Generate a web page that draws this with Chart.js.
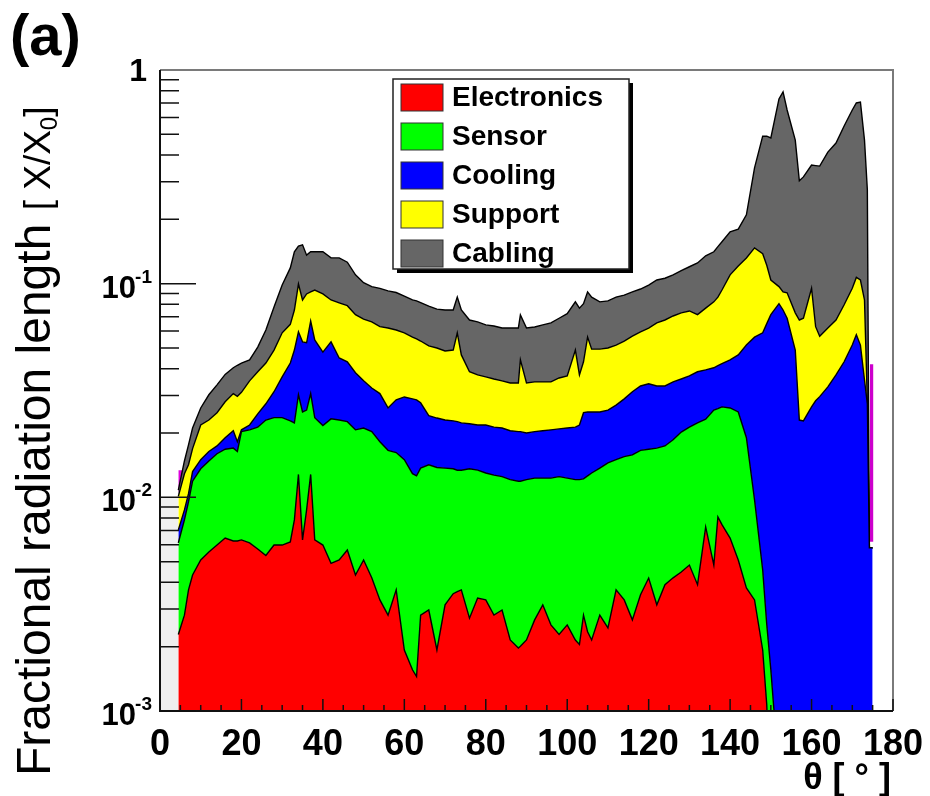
<!DOCTYPE html>
<html>
<head>
<meta charset="utf-8">
<title>Material budget</title>
<script src="https://cdn.jsdelivr.net/npm/chart.js@4.4.0/dist/chart.umd.min.js"></script>
<style>
  html, body { margin: 0; padding: 0; background: #fff; }
</style>
</head>
<body>
<canvas id="myChart" width="930" height="796"></canvas>
<script>
// polar angle in degrees
const theta = [4.5, 6, 7, 8, 10, 12, 14, 16, 18, 19,
  20, 22, 24, 26, 28, 30, 32, 33, 34, 35,
  36, 37, 38, 40, 42, 44, 46, 48, 50, 52,
  54, 56, 58, 60, 62, 63, 64, 66, 68, 70,
  72, 73, 74, 76, 78, 80, 82, 84, 86, 88,
  88.5, 90, 92, 94, 96, 98, 100, 102, 103, 104,
  105, 106, 108, 110, 112, 114, 116, 118, 120, 122,
  124, 126, 128, 130, 132, 134, 136, 137, 138, 140,
  142, 144, 146, 148, 149, 150, 152, 153, 154, 156,
  157, 158, 160, 161, 162, 164, 166, 168, 170, 171,
  172, 173, 173.7, 174.2, 175];

// top edge of each stacked layer (cumulative X/X0)
const electronics = [0.00228, 0.00281, 0.00369, 0.00433, 0.00509, 0.00555, 0.00598, 0.00645, 0.00625, 0.00625,
  0.00632, 0.00612, 0.00573, 0.00534, 0.00598, 0.00598, 0.00618, 0.00784, 0.0128, 0.00632,
  0.00873, 0.0128, 0.00632, 0.00598, 0.00491, 0.00509, 0.00567, 0.00433, 0.00509, 0.00420,
  0.00331, 0.00281, 0.00369, 0.00193, 0.00156, 0.00145, 0.00281, 0.00297, 0.00193, 0.00314,
  0.00354, 0.00362, 0.00369, 0.00272, 0.00338, 0.00331, 0.00281, 0.00297, 0.00215, 0.00197,
  0.00201, 0.00215, 0.00267, 0.00314, 0.00253, 0.00228, 0.00253, 0.00215, 0.00205, 0.00281,
  0.00235, 0.00215, 0.00281, 0.00245, 0.00369, 0.00331, 0.00267, 0.00350, 0.00419, 0.00314,
  0.00390, 0.00420, 0.00447, 0.00482, 0.00390, 0.00727, 0.00482, 0.00810, 0.00745, 0.00645,
  0.00509, 0.00377, 0.00331, 0.00193, 0.00107, 0.0003, 0.0003, 0.0003, 0.0003, 0.0003,
  0.0003, 0.0003, 0.0003, 0.0003, 0.0003, 0.0003, 0.0003, 0.0003, 0.0003, 0.0003,
  0.0003, 0.0003, 0.0003, 0.0003, 0.0003];

const sensor = [0.00612, 0.00784, 0.00952, 0.0119, 0.0136, 0.0148, 0.0160, 0.0168, 0.0170, 0.0164,
  0.0203, 0.0207, 0.0213, 0.0230, 0.0236, 0.0236, 0.0228, 0.0223, 0.0302, 0.0251,
  0.0256, 0.0306, 0.0236, 0.0217, 0.0233, 0.0230, 0.0226, 0.0207, 0.0211, 0.0203,
  0.0182, 0.0166, 0.0162, 0.0150, 0.0129, 0.0126, 0.0137, 0.0142, 0.0138, 0.0137,
  0.0136, 0.0134, 0.0134, 0.0136, 0.0134, 0.0130, 0.0127, 0.0125, 0.0121, 0.0119,
  0.0119, 0.0121, 0.0123, 0.0123, 0.0123, 0.0125, 0.0123, 0.0121, 0.0121, 0.0122,
  0.0126, 0.0130, 0.0137, 0.0145, 0.0150, 0.0155, 0.0158, 0.0166, 0.0168, 0.0170,
  0.0174, 0.0186, 0.0202, 0.0213, 0.0223, 0.0232, 0.0256, 0.0260, 0.0265, 0.0262,
  0.0251, 0.0190, 0.00972, 0.00457, 0.00254, 0.00156, 0.0005, 0.0003, 0.0003, 0.0003,
  0.0003, 0.0003, 0.0003, 0.0003, 0.0003, 0.0003, 0.0003, 0.0003, 0.0003, 0.0003,
  0.0003, 0.0003, 0.0003, 0.0003, 0.0003];

const cooling = [0.00704, 0.00873, 0.0104, 0.0132, 0.0150, 0.0164, 0.0174, 0.0190, 0.0205, 0.0182,
  0.0207, 0.0218, 0.0246, 0.0274, 0.0312, 0.0366, 0.0425, 0.0489, 0.0595, 0.0534,
  0.0529, 0.0668, 0.0545, 0.0478, 0.0534, 0.0449, 0.0431, 0.0383, 0.0351, 0.0325,
  0.0306, 0.0262, 0.0286, 0.0295, 0.0289, 0.0286, 0.0277, 0.0241, 0.0235, 0.0230,
  0.0228, 0.0226, 0.0223, 0.0221, 0.0218, 0.0218, 0.0213, 0.0211, 0.0205, 0.0203,
  0.0203, 0.0200, 0.0203, 0.0205, 0.0207, 0.0209, 0.0211, 0.0213, 0.0218, 0.0249,
  0.0251, 0.0251, 0.0251, 0.0256, 0.0270, 0.0289, 0.0312, 0.0332, 0.0340, 0.0332,
  0.0332, 0.0347, 0.0358, 0.0370, 0.0387, 0.0395, 0.0404, 0.0413, 0.0422, 0.0440,
  0.0464, 0.0516, 0.0562, 0.0589, 0.0650, 0.0716, 0.0806, 0.0753, 0.0689, 0.0489,
  0.0230, 0.0228, 0.0265, 0.0283, 0.0296, 0.0329, 0.0374, 0.0431, 0.0516, 0.0577,
  0.0516, 0.0354, 0.0274, 0.0058, 0.0058];

const support = [0.0101, 0.0129, 0.0142, 0.0169, 0.0218, 0.0230, 0.0249, 0.0280, 0.0306, 0.0297,
  0.0310, 0.0351, 0.0387, 0.0425, 0.0489, 0.0589, 0.0645, 0.0753, 0.0996, 0.0839,
  0.0895, 0.0915, 0.0934, 0.0895, 0.0839, 0.0813, 0.0789, 0.0716, 0.0683, 0.0662,
  0.0629, 0.0620, 0.0607, 0.0589, 0.0562, 0.0551, 0.0539, 0.0511, 0.0500, 0.0484,
  0.0489, 0.0589, 0.0464, 0.0387, 0.0374, 0.0366, 0.0358, 0.0351, 0.0343, 0.0343,
  0.0440, 0.0343, 0.0347, 0.0347, 0.0347, 0.0362, 0.0370, 0.0489, 0.0374, 0.0431,
  0.0562, 0.0494, 0.0494, 0.0500, 0.0516, 0.0539, 0.0568, 0.0595, 0.0620, 0.0655,
  0.0676, 0.0706, 0.0730, 0.0745, 0.0716, 0.0768, 0.0822, 0.0865, 0.0934, 0.110,
  0.121, 0.132, 0.147, 0.138, 0.122, 0.104, 0.0969, 0.0915, 0.0906, 0.0730,
  0.0676, 0.0689, 0.0951, 0.0629, 0.0568, 0.0620, 0.0676, 0.0797, 0.0951, 0.107,
  0.104, 0.0839, 0.0281, 0.0058, 0.0058];

const cabling = [0.0108, 0.0148, 0.0176, 0.0211, 0.0262, 0.0302, 0.0336, 0.0376, 0.0404, 0.0415,
  0.0425, 0.0440, 0.0505, 0.0607, 0.0778, 0.0985, 0.1185, 0.141, 0.150, 0.152,
  0.136, 0.141, 0.141, 0.141, 0.132, 0.132, 0.126, 0.110, 0.101, 0.0968,
  0.0951, 0.0925, 0.0909, 0.0875, 0.0839, 0.0831, 0.0816, 0.0785, 0.0760, 0.0753,
  0.0753, 0.0865, 0.0753, 0.0676, 0.0662, 0.0641, 0.0634, 0.0620, 0.0620, 0.0620,
  0.0714, 0.0620, 0.0627, 0.0641, 0.0655, 0.0689, 0.0724, 0.0822, 0.0768, 0.0806,
  0.0915, 0.0865, 0.0822, 0.0831, 0.0865, 0.0884, 0.0915, 0.0944, 0.0985, 0.104,
  0.106, 0.110, 0.115, 0.120, 0.125, 0.135, 0.141, 0.149, 0.157, 0.175,
  0.180, 0.210, 0.348, 0.490, 0.490, 0.481, 0.732, 0.790, 0.650, 0.470,
  0.303, 0.316, 0.359, 0.357, 0.355, 0.413, 0.455, 0.547, 0.650, 0.701,
  0.708, 0.470, 0.275, 0.0058, 0.0058];

// unlabelled slivers at both ends of the acceptance (magenta)
const otherLeftTheta = [4.5, 5.8];
const otherLeftTop = [0.0134, 0.0134];
const otherLeftBase = 0.0106;
const otherRightTheta = [174.3, 175.2];
const otherRightTop = [0.042, 0.042];
const otherRightBase = 0.0062;

// beam pipe region (light grey block at small angles)
const pipeTheta = [0, 4.5];
const pipeLevel = [0.01, 0.01];

const layerNames = ["Electronics", "Sensor", "Cooling", "Support", "Cabling"];
const xTicks = [0, 20, 40, 60, 80, 100, 120, 140, 160, 180];
const yTicks = [0.001, 0.01, 0.1, 1];
const yTickBase = ["10", "10", "10", "1"];
const yTickExp = ["-3", "-2", "-1", ""];
const xMinorStep = 5;
const xMajorStep = 20;

const layerColors = ["#ff0000", "#00ff00", "#0000ff", "#ffff00", "#666666"];
const FONT = "'Liberation Sans', Arial, Helvetica, sans-serif";

function layer(name, values, color, fill) {
  return {
    label: name,
    data: theta.map((t, i) => ({ x: t, y: values[i] })),
    backgroundColor: color,
    borderColor: "#000",
    borderWidth: 1.4,
    pointRadius: 0,
    tension: 0,
    fill: fill,
  };
}

function block(name, xs, ys, color, fill) {
  return {
    label: name,
    data: xs.map((t, i) => ({ x: t, y: ys[i] })),
    backgroundColor: color,
    borderWidth: 0,
    pointRadius: 0,
    fill: fill,
  };
}

const data = {
  datasets: [
    layer(layerNames[0], electronics, layerColors[0], "start"),
    layer(layerNames[1], sensor, layerColors[1], "-1"),
    layer(layerNames[2], cooling, layerColors[2], "-1"),
    layer(layerNames[3], support, layerColors[3], "-1"),
    layer(layerNames[4], cabling, layerColors[4], "-1"),
    block("other", otherLeftTheta, otherLeftTop, "#dd00dd", { value: otherLeftBase }),
    block("other", otherRightTheta, otherRightTop, "#cc00cc", { value: otherRightBase }),
    block("pipe", pipeTheta, pipeLevel, "#efefef", "start"),
  ],
};

// ROOT style frame, inward ticks, legend and titles
const rootStyle = {
  id: "rootStyle",
  afterDatasetsDraw(chart) {
    const { ctx, chartArea: a, scales } = chart;
    const x = scales.x, y = scales.y;
    ctx.save();
    ctx.lineWidth = 2;
    ctx.strokeStyle = "#7a7a7a";
    ctx.beginPath();
    ctx.moveTo(a.left, a.top);
    ctx.lineTo(a.right, a.top);
    ctx.lineTo(a.right, a.bottom);
    ctx.stroke();
    ctx.strokeStyle = "#111";
    ctx.beginPath();
    ctx.moveTo(a.left, a.top);
    ctx.lineTo(a.left, a.bottom);
    ctx.lineTo(a.right, a.bottom);
    ctx.stroke();

    ctx.lineWidth = 1.5;
    ctx.strokeStyle = "#111";
    ctx.beginPath();
    for (let v = x.min; v <= x.max; v += xMinorStep) {
      const px = x.getPixelForValue(v);
      const len = v % xMajorStep === 0 ? 12 : 6;
      ctx.moveTo(px, a.bottom);
      ctx.lineTo(px, a.bottom - len);
    }
    for (let e = -3; e < 0; e++) {
      for (let m = 1; m <= 9; m++) {
        const py = y.getPixelForValue(m * Math.pow(10, e));
        const len = m === 1 ? 36 : 19;
        ctx.moveTo(a.left, py);
        ctx.lineTo(a.left + len, py);
      }
    }
    ctx.stroke();

    // y tick labels with raised exponents
    ctx.fillStyle = "#000";
    ctx.textBaseline = "alphabetic";
    ctx.textAlign = "right";
    const right = a.left - 8;
    yTicks.forEach((v, i) => {
      const py = y.getPixelForValue(v);
      if (yTickExp[i]) {
        ctx.font = "bold 19px " + FONT;
        const ew = ctx.measureText(yTickExp[i]).width;
        ctx.fillText(yTickExp[i], right, py - 1);
        ctx.font = "bold 31px " + FONT;
        ctx.fillText(yTickBase[i], right - ew + 1, py + 14);
      } else {
        ctx.font = "bold 32px " + FONT;
        ctx.fillText(yTickBase[i], right - 5, py + 11);
      }
    });
    ctx.restore();
  },
  afterDraw(chart) {
    const ctx = chart.ctx;
    ctx.save();

    // legend box with shadow
    const lx = 393, ly = 79, lw = 236, lh = 190;
    ctx.fillStyle = "#000";
    ctx.fillRect(lx + 4, ly + 4, lw, lh);
    ctx.fillStyle = "#fff";
    ctx.fillRect(lx, ly, lw, lh);
    ctx.lineWidth = 1.5;
    ctx.strokeStyle = "#222";
    ctx.strokeRect(lx, ly, lw, lh);
    chart.data.datasets.slice(0, 5).forEach((ds, i) => {
      const cy = 97 + i * 39;
      ctx.fillStyle = ds.backgroundColor;
      ctx.fillRect(401, cy - 13, 42, 27);
      ctx.lineWidth = 1;
      ctx.strokeStyle = "#333";
      ctx.strokeRect(401, cy - 13, 42, 27);
      ctx.fillStyle = "#000";
      ctx.font = "bold 28px " + FONT;
      ctx.textAlign = "left";
      ctx.textBaseline = "middle";
      ctx.fillText(ds.label, 452, cy + 1);
    });

    // panel label
    ctx.font = "bold 58px " + FONT;
    ctx.textAlign = "left";
    ctx.textBaseline = "alphabetic";
    ctx.fillText("(a)", 10, 55);

    // x title
    ctx.font = "bold 36px " + FONT;
    ctx.textAlign = "right";
    ctx.fillText("\u03B8 [ \u00B0 ]", 891, 789);

    // y title with subscript
    ctx.translate(50, 776);
    ctx.rotate(-Math.PI / 2);
    ctx.textAlign = "left";
    let cx = 0;
    ctx.font = "48px " + FONT;
    ctx.fillText("Fractional radiation length ", cx, 0);
    cx += ctx.measureText("Fractional radiation length ").width;
    ctx.font = "37px " + FONT;
    ctx.fillText("[ X/X", cx, 0);
    cx += ctx.measureText("[ X/X").width;
    ctx.font = "24px " + FONT;
    ctx.fillText("0", cx, 7);
    cx += ctx.measureText("0").width;
    ctx.font = "37px " + FONT;
    ctx.fillText("]", cx, 0);
    ctx.restore();
  },
};

const config = {
  type: "line",
  data: data,
  options: {
    responsive: false,
    animation: false,
    layout: { padding: { top: 70, right: 37, left: 0, bottom: 0 } },
    plugins: {
      legend: { display: false },
      tooltip: { enabled: false },
    },
    scales: {
      x: {
        type: "linear",
        min: 0,
        max: 180,
        afterFit: (s) => { s.height = 85; },
        afterBuildTicks: (s) => { s.ticks = xTicks.map((v) => ({ value: v })); },
        grid: { display: false },
        border: { display: false },
        ticks: {
          color: "#000",
          font: { family: FONT, size: 36, weight: "bold" },
          padding: 4,
          maxRotation: 0,
          autoSkip: false,
        },
      },
      y: {
        type: "logarithmic",
        min: 0.001,
        max: 1,
        afterFit: (s) => { s.width = 160; },
        afterBuildTicks: (s) => { s.ticks = yTicks.map((v) => ({ value: v })); },
        grid: { display: false },
        border: { display: false },
        ticks: { display: false },
      },
    },
  },
  plugins: [rootStyle],
};

const myChart = new Chart(document.getElementById("myChart"), config);
</script>
</body>
</html>
